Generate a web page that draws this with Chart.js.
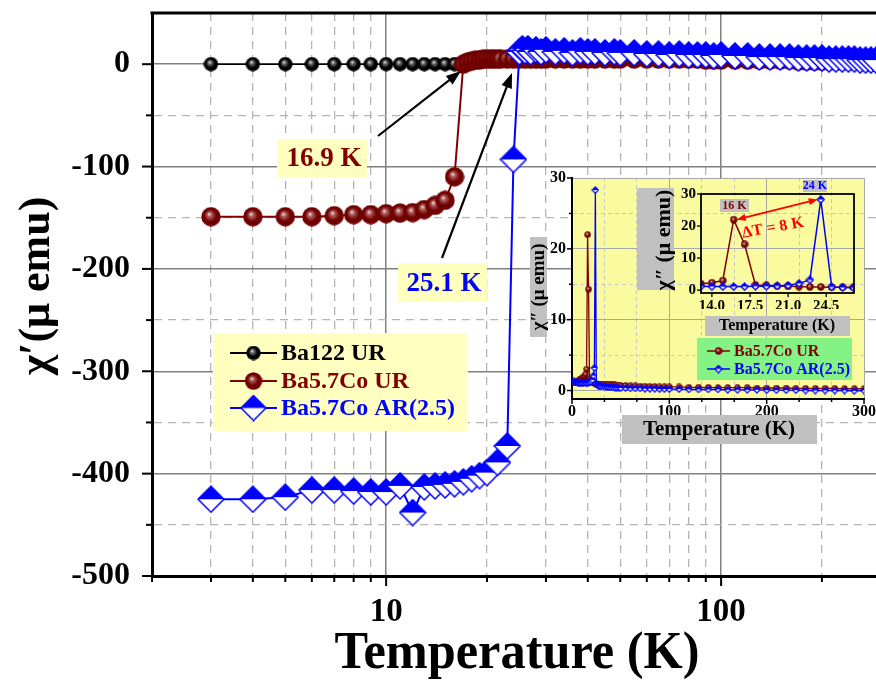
<!DOCTYPE html>
<html>
<head>
<meta charset="utf-8">
<script src="https://cdn.jsdelivr.net/npm/chart.js@4.4.1/dist/chart.umd.min.js"></script>
<style>
  html, body { margin: 0; padding: 0; background: #fff; }
  #wrap { position: relative; width: 876px; height: 681px; overflow: hidden; }
  #wrap canvas { position: absolute; left: 0; top: 0; pointer-events: none; }
</style>
</head>
<body>
<div id="wrap">
  <canvas id="main" width="876" height="681"></canvas>
  <canvas id="inset" width="876" height="681"></canvas>
  <canvas id="zoomIn" width="876" height="681"></canvas>
</div>
<script>
// ---- data: chi' (main panel), log temperature axis ----
const seriesNames = ['Ba122 UR', 'Ba5.7Co UR', 'Ba5.7Co AR(2.5)'];

const tBa122 = [3, 4, 5, 6, 7, 8, 9, 10, 11, 12, 13, 14, 15, 16];
const chiBa122 = [0, 0, 0, 0, 0, 0, 0, 0, 0, 0, 0, 0, 0, 0];

const tRed = [3, 4, 5, 6, 7, 8, 9, 10, 11, 12, 13, 14, 15, 16,
  17, 17.5, 18, 18.5, 19, 19.5, 20, 20.5, 21, 21.5, 22,
  23, 24, 25, 26, 27, 28, 29, 30, 32, 34, 36, 38, 40, 42, 45, 48, 50,
  55, 60, 65, 70, 75, 80, 85, 90, 95, 100,
  110, 120, 130, 140, 150, 160, 170, 180, 190, 200, 210, 220, 230, 240, 250, 260, 270, 280, 290, 300];
const chiRed = [-149, -149, -149, -149, -148, -147, -147, -146, -145.5, -145, -142, -138, -133, -110,
  0, 2, 3, 4, 4, 5, 5, 5, 5, 5, 5,
  5, 5, 5, 5, 5, 5, 5, 5, 5, 5, 5, 5, 5, 5, 5, 5, 5,
  5, 5, 5, 5, 5, 5, 5, 4, 4, 4,
  4, 4, 4, 4, 4, 4, 3, 3, 3, 3, 3, 3, 3, 3, 3, 3, 2, 2, 2, 2];

const tBlue = [3, 4, 5, 6, 7, 8, 9, 10, 11, 12, 13, 14, 15, 16, 17, 18, 19, 20, 21.5, 23, 24,
  25, 25.5, 26, 26.5, 27, 28, 29, 30, 32, 34, 36, 38, 40, 42, 45, 48, 50,
  55, 60, 65, 70, 75, 80, 85, 90, 95, 100,
  110, 120, 130, 140, 150, 160, 170, 180, 190, 200, 210, 220, 230, 240, 250, 260, 270, 280, 290, 300];
const chiBlue = [-425, -425, -423, -416, -416, -417, -418, -418, -412, -438, -413, -412, -411, -410, -408, -405, -402, -399, -389, -373, -93,
  12, 15, 13, 15, 12, 14, 12, 14, 12, 13, 11, 13, 12, 12, 11, 12, 11,
  11, 10, 10, 9, 10, 9, 9, 9, 8, 9,
  8, 8, 7, 7, 7, 7, 6, 6, 6, 6, 5, 5, 5, 5, 5, 4, 4, 4, 4, 4];

const mainXTicks = [2, 3, 4, 5, 6, 7, 8, 9, 10, 20, 30, 40, 50, 60, 70, 80, 90, 100, 200];
const mainXLabels = [10, 100];
const mainYTicks = [-500, -450, -400, -350, -300, -250, -200, -150, -100, -50, 0];

// ---- data: chi'' (inset), linear temperature axis ----
const tIn = [2, 3, 4, 5, 6, 7, 8, 9, 10, 11, 12, 13, 14, 15, 16, 17, 18, 19, 20, 21, 22, 23, 24, 25, 26, 27, 28, 29, 30,
  32, 34, 36, 38, 40, 42, 44, 46, 48, 50,
  55, 60, 65, 70, 75, 80, 85, 90, 95, 100,
  110, 120, 130, 140, 150, 160, 170, 180, 190, 200, 210, 220, 230, 240, 250, 260, 270, 280, 290, 300];
const chi2Red = [1.1, 1.2, 1.2, 1.3, 1.3, 1.4, 1.5, 1.6, 1.7, 1.8, 1.9,
  2.0, 2.3, 3.0, 22.0, 14.3,
  1.6, 1.5, 1.3, 1.2, 1.1, 1.0, 1.0, 0.9, 0.9, 0.9, 0.9, 0.9, 0.9,
  0.9, 0.9, 0.85, 0.85, 0.8, 0.8, 0.8, 0.75, 0.75, 0.7,
  0.7, 0.65, 0.65, 0.6, 0.6, 0.55, 0.55, 0.5, 0.5, 0.5,
  0.5, 0.45, 0.45, 0.45, 0.4, 0.4, 0.4, 0.4, 0.35, 0.35, 0.35, 0.35, 0.3, 0.3, 0.3, 0.3, 0.3, 0.25, 0.25, 0.25];
const chi2Blue = [1.3, 1.2, 1.2, 1.2, 1.1, 1.1, 1.1, 1.1, 1.1, 1.1, 1.1,
  1.2, 1.1, 1.1, 1.1, 1.1,
  1.2, 1.2, 1.3, 1.5, 2.1, 3.2, 28.3, 1.0, 0.8, 0.7, 0.7, 0.6, 0.6,
  0.6, 0.55, 0.5, 0.5, 0.45, 0.45, 0.4, 0.4, 0.4, 0.35,
  0.35, 0.3, 0.3, 0.3, 0.25, 0.25, 0.25, 0.2, 0.2, 0.2,
  0.2, 0.15, 0.15, 0.15, 0.15, 0.1, 0.1, 0.1, 0.1, 0.05, 0.05, 0.05, 0.05, 0, 0, 0, 0, 0, -0.05, 0];

const insetXTicks = [0, 33.33, 66.67, 100, 133.33, 166.67, 200, 233.33, 266.67, 300];
const insetYTicks = [0, 5, 10, 15, 20, 25, 30];
const zoomXTicks = [14, 17.5, 21, 24.5];
const zoomYTicks = [0, 10, 20, 30];

const SERIF = '"Liberation Serif", "Times New Roman", serif';
const bold = size => ({ family: SERIF, size: size, weight: 'bold' });
const toPts = (xs, ys) => xs.map((x, i) => ({ x: x, y: ys[i] }));
// keep Chart.js from shrinking the plot area for edge labels
const noPad = s => { s.paddingLeft = 0; s.paddingRight = 0; s.paddingTop = 0; s.paddingBottom = 0; };

// marker bitmaps
function ball(d, dark, mid, light) {
  const c = document.createElement('canvas');
  c.width = c.height = d;
  const g = c.getContext('2d');
  const r = d / 2;
  const grad = g.createRadialGradient(r * 0.8, r * 0.72, 0, r, r, r);
  grad.addColorStop(0, light);
  grad.addColorStop(0.22, mid);
  grad.addColorStop(0.6, dark);
  grad.addColorStop(1, dark);
  g.fillStyle = grad;
  g.beginPath();
  g.arc(r, r, r - 0.3, 0, Math.PI * 2);
  g.fill();
  return c;
}
function halfDiamond(w, color, lw) {
  const c = document.createElement('canvas');
  c.width = c.height = w;
  const g = c.getContext('2d');
  const m = w / 2, e = lw / 2 + 0.3;
  g.beginPath();
  g.moveTo(m, e); g.lineTo(w - e, m); g.lineTo(m, w - e); g.lineTo(e, m); g.closePath();
  g.fillStyle = '#fff'; g.fill();
  g.save(); g.clip(); g.fillStyle = color; g.fillRect(0, 0, w, m); g.restore();
  g.strokeStyle = color; g.lineWidth = lw; g.stroke();
  return c;
}
const blackBall = d => ball(d, '#000000', '#707070', '#ffffff');
const redBall = d => ball(d, '#700000', '#b06060', '#fff0f0');

function arrowHead(ctx, x, y, ang, len, wid) {
  ctx.beginPath();
  ctx.moveTo(x, y);
  ctx.lineTo(x - len * Math.cos(ang) + wid * Math.sin(ang), y - len * Math.sin(ang) - wid * Math.cos(ang));
  ctx.lineTo(x - len * Math.cos(ang) - wid * Math.sin(ang), y - len * Math.sin(ang) + wid * Math.cos(ang));
  ctx.closePath();
  ctx.fill();
}
function arrow(ctx, x1, y1, x2, y2, color, lw, len, wid, both) {
  const ang = Math.atan2(y2 - y1, x2 - x1);
  ctx.save();
  ctx.strokeStyle = color; ctx.fillStyle = color; ctx.lineWidth = lw;
  ctx.beginPath();
  ctx.moveTo(both ? x1 + Math.cos(ang) * len * 0.8 : x1, both ? y1 + Math.sin(ang) * len * 0.8 : y1);
  ctx.lineTo(x2 - Math.cos(ang) * len * 0.8, y2 - Math.sin(ang) * len * 0.8);
  ctx.stroke();
  arrowHead(ctx, x2, y2, ang, len, wid);
  if (both) arrowHead(ctx, x1, y1, ang + Math.PI, len, wid);
  ctx.restore();
}
function boxText(ctx, x, y, w, h, fill, text, color, size, tx, ty, rot) {
  ctx.save();
  if (fill) { ctx.fillStyle = fill; ctx.fillRect(x, y, w, h); }
  ctx.translate(tx, ty);
  if (rot) ctx.rotate(rot);
  ctx.font = 'bold ' + size + 'px ' + SERIF;
  ctx.fillStyle = color;
  ctx.textAlign = 'center';
  ctx.textBaseline = 'middle';
  ctx.fillText(text, 0, 0);
  ctx.restore();
}
function legendRow(ctx, x0, x1, y, lineColor, lw, img, text, color, size) {
  ctx.save();
  ctx.strokeStyle = lineColor; ctx.lineWidth = lw;
  ctx.beginPath(); ctx.moveTo(x0, y); ctx.lineTo(x1, y); ctx.stroke();
  ctx.drawImage(img, (x0 + x1) / 2 - img.width / 2, y - img.height / 2);
  ctx.font = 'bold ' + size + 'px ' + SERIF;
  ctx.fillStyle = color;
  ctx.textAlign = 'left';
  ctx.textBaseline = 'middle';
  ctx.fillText(text, x1 + 4, y + 1);
  ctx.restore();
}

// ---------------- main chart ----------------
const isMainX = v => mainXLabels.includes(v);
const isMainY = v => v % 100 === 0;

const mainDecor = {
  id: 'mainDecor',
  afterDraw(chart) {
    const { ctx, chartArea: a, scales: { x, y } } = chart;
    ctx.save();
    ctx.strokeStyle = '#000';
    ctx.lineWidth = 3;
    ctx.beginPath(); ctx.moveTo(a.left - 1.5, a.top); ctx.lineTo(chart.width, a.top); ctx.stroke();
    ctx.lineWidth = 2;
    y.ticks.forEach(t => {
      const p = y.getPixelForValue(t.value), len = isMainY(t.value) ? 10 : 6;
      ctx.beginPath(); ctx.moveTo(a.left - len, p); ctx.lineTo(a.left, p); ctx.stroke();
    });
    x.ticks.forEach(t => {
      const p = x.getPixelForValue(t.value), len = isMainX(t.value) ? 10 : 6;
      ctx.beginPath(); ctx.moveTo(p, a.bottom); ctx.lineTo(p, a.bottom + len); ctx.stroke();
    });
    ctx.restore();

    // axis titles
    ctx.save();
    ctx.fillStyle = '#000';
    ctx.textAlign = 'center';
    ctx.textBaseline = 'alphabetic';
    ctx.font = 'bold 53px ' + SERIF;
    ctx.translate(517, 668);
    ctx.scale(0.95, 1);
    ctx.fillText('Temperature (K)', 0, 0);
    ctx.restore();
    boxText(ctx, 0, 0, 0, 0, null, 'χ′(μ emu)', '#000', 44, 38, 286, -Math.PI / 2);

    // legend
    ctx.save();
    ctx.fillStyle = '#ffffc0';
    ctx.fillRect(213, 333, 255, 98);
    ctx.restore();
    const rowsY = [353, 381, 408];
    const imgs = [blackBall(15), redBall(18), halfDiamond(27, '#0000ff', 1.5)];
    const cols = ['#000000', '#800000', '#0000ff'];
    seriesNames.forEach((name, i) => legendRow(ctx, 230, 277, rowsY[i], cols[i], 2, imgs[i], name, cols[i], 24));

    // transition temperature labels
    boxText(ctx, 277, 139, 90, 38, '#ffffc0', '16.9 K', '#800000', 27, 324, 159);
    arrow(ctx, 378, 136, 461, 71, '#000', 2.2, 15, 5.5, false);
    boxText(ctx, 398, 263, 89, 39, '#ffffc0', '25.1 K', '#0000ff', 27, 444, 284);
    arrow(ctx, 442, 258, 512, 73, '#000', 2.2, 15, 5.5, false);
  }
};

new Chart(document.getElementById('main'), {
  type: 'line',
  data: {
    datasets: [
      { label: seriesNames[0], data: toPts(tBa122, chiBa122), borderColor: '#000000', borderWidth: 1.5,
        pointStyle: blackBall(15), pointRadius: 8, order: 3 },
      { label: seriesNames[1], data: toPts(tRed, chiRed), borderColor: '#800000', borderWidth: 2,
        pointStyle: redBall(20), pointRadius: 10, order: 2 },
      { label: seriesNames[2], data: toPts(tBlue, chiBlue), borderColor: '#0000ff', borderWidth: 2,
        pointStyle: halfDiamond(28, '#0000ff', 1.5), pointRadius: 14, order: 1 }
    ]
  },
  options: {
    responsive: false,
    animation: false,
    devicePixelRatio: 1,
    events: [],
    layout: { autoPadding: false, padding: { top: 13, left: 0, right: 0, bottom: 0 } },
    elements: { line: { tension: 0 } },
    plugins: { legend: { display: false }, tooltip: { enabled: false } },
    scales: {
      x: {
        type: 'logarithmic', min: 2, max: 290,
        afterBuildTicks: s => { s.ticks = mainXTicks.map(v => ({ value: v })); },
        afterFit: s => { s.height = 105; noPad(s); },
        ticks: { autoSkip: false, maxRotation: 0, padding: 17, color: '#000', font: bold(33),
          callback: v => isMainX(v) ? String(v) : '' },
        grid: { drawTicks: false, color: c => c.tick && isMainX(c.tick.value) ? '#808080' : '#b4b4b4',
          lineWidth: c => c.tick && isMainX(c.tick.value) ? 1.5 : 1.3 },
        border: { color: '#000', width: 3, dash: c => c.tick && !isMainX(c.tick.value) ? [8, 6] : [] },
        title: { display: false }
      },
      y: {
        type: 'linear', min: -500, max: 50,
        afterBuildTicks: s => { s.ticks = mainYTicks.map(v => ({ value: v })); },
        afterFit: s => { s.width = 152; noPad(s); },
        ticks: { autoSkip: false, padding: 22, color: '#000', font: bold(32),
          callback: v => isMainY(v) ? String(v) : '' },
        grid: { drawTicks: false, color: c => c.tick && isMainY(c.tick.value) ? '#808080' : '#b4b4b4',
          lineWidth: c => c.tick && isMainY(c.tick.value) ? 1.5 : 1.3 },
        border: { color: '#000', width: 3, dash: c => c.tick && !isMainY(c.tick.value) ? [8, 6] : [] },
        title: { display: false }
      }
    }
  },
  plugins: [mainDecor]
});

// ---------------- inset: chi'' vs T ----------------
const isInX = v => [0, 100, 200, 300].includes(v);
const isInY = v => v % 10 === 0;

const insetDecor = {
  id: 'insetDecor',
  beforeDraw(chart) {
    const { ctx, chartArea: a } = chart;
    ctx.save();
    ctx.fillStyle = '#fafa9e';
    ctx.fillRect(a.left, a.top, a.right - a.left, a.bottom - a.top);
    ctx.restore();
  },
  afterDraw(chart) {
    const { ctx, chartArea: a, scales: { x, y } } = chart;
    ctx.save();
    ctx.strokeStyle = '#000';
    ctx.lineWidth = 1.5;
    y.ticks.forEach(t => {
      const p = y.getPixelForValue(t.value), len = isInY(t.value) ? 5 : 3;
      ctx.beginPath(); ctx.moveTo(a.left - len, p); ctx.lineTo(a.left, p); ctx.stroke();
    });
    x.ticks.forEach(t => {
      const p = x.getPixelForValue(t.value), len = isInX(t.value) ? 5 : 3;
      ctx.beginPath(); ctx.moveTo(p, a.bottom); ctx.lineTo(p, a.bottom + len); ctx.stroke();
    });
    ctx.restore();
    boxText(ctx, 530, 237, 17, 100, '#c0c0c0', 'χ″ (μ emu)', '#000', 19, 539, 287, -Math.PI / 2);
    boxText(ctx, 622, 415, 195, 29, '#c0c0c0', 'Temperature (K)', '#000', 21, 719, 430);
    // legend
    ctx.save();
    ctx.fillStyle = '#84f284';
    ctx.fillRect(697, 338, 155, 42);
    ctx.restore();
    legendRow(ctx, 707, 730, 351, '#800000', 1.5, redBall(8), seriesNames[1], '#800000', 16);
    legendRow(ctx, 707, 730, 369, '#0000ff', 1.5, halfDiamond(9, '#0000ff', 1.2), seriesNames[2], '#0000ff', 16);
  }
};

new Chart(document.getElementById('inset'), {
  type: 'line',
  data: {
    datasets: [
      { label: seriesNames[1], data: toPts(tIn, chi2Red), borderColor: '#800000', borderWidth: 1.3,
        pointStyle: redBall(7), pointRadius: 4, order: 2 },
      { label: seriesNames[2], data: toPts(tIn, chi2Blue), borderColor: '#0000ff', borderWidth: 1.3,
        pointStyle: halfDiamond(8, '#0000ff', 1.2), pointRadius: 4, order: 1 }
    ]
  },
  options: {
    responsive: false,
    animation: false,
    devicePixelRatio: 1,
    events: [],
    layout: { autoPadding: false, padding: { top: 178, left: 532, right: 12, bottom: 262 } },
    elements: { line: { tension: 0 } },
    plugins: { legend: { display: false }, tooltip: { enabled: false } },
    scales: {
      x: {
        type: 'linear', min: 0, max: 300,
        afterBuildTicks: s => { s.ticks = insetXTicks.map(v => ({ value: v })); },
        afterFit: s => { s.height = 20; noPad(s); },
        ticks: { autoSkip: false, maxRotation: 0, padding: 3, color: '#000', font: bold(16),
          callback: v => isInX(v) ? String(v) : '' },
        grid: { drawTicks: false, color: c => c.tick && isInX(c.tick.value) ? '#a8a8a8' : '#c8c8c8', lineWidth: 1 },
        border: { color: '#000', width: 2, dash: c => c.tick && !isInX(c.tick.value) ? [4, 3] : [] }
      },
      y: {
        type: 'linear', min: -1.2, max: 30,
        afterBuildTicks: s => { s.ticks = insetYTicks.map(v => ({ value: v })); },
        afterFit: s => { s.width = 40; noPad(s); },
        ticks: { autoSkip: false, padding: 6, color: '#000', font: bold(16),
          callback: v => isInY(v) ? String(v) : '' },
        grid: { drawTicks: false, color: c => c.tick && isInY(c.tick.value) ? '#a8a8a8' : '#c8c8c8', lineWidth: 1 },
        border: { color: '#000', width: 2, dash: c => c.tick && !isInY(c.tick.value) ? [4, 3] : [] }
      }
    }
  },
  plugins: [insetDecor]
});

// ---------------- inner inset: zoom on the peaks ----------------
const zoomDecor = {
  id: 'zoomDecor',
  afterDraw(chart) {
    const { ctx, chartArea: a, scales: { x, y } } = chart;
    ctx.save();
    ctx.strokeStyle = '#000';
    ctx.lineWidth = 1.8;
    ctx.strokeRect(a.left, a.top, a.right - a.left, a.bottom - a.top);
    ctx.lineWidth = 1.3;
    y.ticks.forEach(t => {
      const p = y.getPixelForValue(t.value);
      ctx.beginPath(); ctx.moveTo(a.left - 4, p); ctx.lineTo(a.left, p); ctx.stroke();
    });
    x.ticks.forEach(t => {
      const p = x.getPixelForValue(t.value);
      ctx.beginPath(); ctx.moveTo(p, a.bottom); ctx.lineTo(p, a.bottom + 4); ctx.stroke();
    });
    ctx.restore();
    boxText(ctx, 637, 188, 37, 102, '#c0c0c0', 'χ″ (μ emu)', '#000', 22, 664, 240, -Math.PI / 2);
    boxText(ctx, 705, 316, 145, 20, '#c0c0c0', 'Temperature (K)', '#000', 16, 777, 326);
    boxText(ctx, 720, 199, 29, 13, '#c0c0c0', '16 K', '#800000', 12, 734.5, 205.5);
    boxText(ctx, 803, 180, 24, 12, '#c0c0c0', '24 K', '#0000ff', 12, 815, 186);
    const x1 = x.getPixelForValue(16) + 3, y1 = y.getPixelForValue(22);
    const x2 = x.getPixelForValue(24) - 3, y2 = y.getPixelForValue(28.3);
    arrow(ctx, x1, y1, x2, y2, '#ff0000', 1.8, 9, 3.5, true);
    boxText(ctx, 0, 0, 0, 0, null, 'ΔT = 8 K', '#ff0000', 16, 773, 228, -0.18);
  }
};

new Chart(document.getElementById('zoomIn'), {
  type: 'line',
  data: {
    datasets: [
      { label: seriesNames[1], data: toPts(tIn, chi2Red), borderColor: '#800000', borderWidth: 1.5,
        pointStyle: redBall(8), pointRadius: 4, order: 2 },
      { label: seriesNames[2], data: toPts(tIn, chi2Blue), borderColor: '#0000ff', borderWidth: 1.5,
        pointStyle: halfDiamond(9, '#0000ff', 1.3), pointRadius: 4, order: 1 }
    ]
  },
  options: {
    responsive: false,
    animation: false,
    devicePixelRatio: 1,
    events: [],
    layout: { autoPadding: false, padding: { top: 194, left: 671, right: 22, bottom: 372 } },
    elements: { line: { tension: 0 } },
    plugins: { legend: { display: false }, tooltip: { enabled: false } },
    scales: {
      x: {
        type: 'linear', min: 13, max: 27.05,
        afterBuildTicks: s => { s.ticks = zoomXTicks.map(v => ({ value: v })); },
        afterFit: s => { s.height = 16; noPad(s); },
        ticks: { autoSkip: false, maxRotation: 0, padding: 4, color: '#000', font: bold(15),
          callback: v => v.toFixed(1) },
        grid: { display: false, drawTicks: false },
        border: { display: false }
      },
      y: {
        type: 'linear', min: -0.9, max: 30,
        afterBuildTicks: s => { s.ticks = zoomYTicks.map(v => ({ value: v })); },
        afterFit: s => { s.width = 30; noPad(s); },
        ticks: { autoSkip: false, padding: 5, color: '#000', font: bold(15) },
        grid: { display: false, drawTicks: false },
        border: { display: false }
      }
    }
  },
  plugins: [zoomDecor]
});
</script>
</body>
</html>
